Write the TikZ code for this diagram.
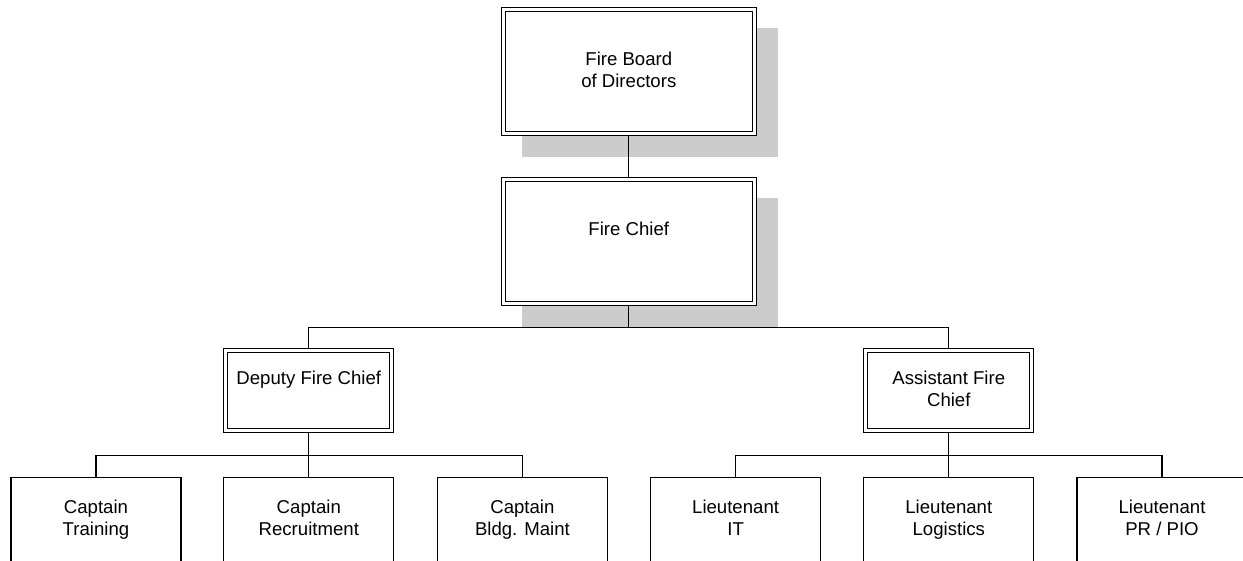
\documentclass[tikz,border=0pt]{standalone}
\usepackage{fontspec}
\setmainfont{Liberation Sans}
\usetikzlibrary{backgrounds}
\newcommand{\cellstrut}{\rule[-3.25pt]{0pt}{22.5pt}}

\begin{document}
\begin{tikzpicture}[x=1pt,y=-1pt,
    every node/.style={font=\fontsize{18.6}{22.5}\selectfont,align=center,
        execute at begin node=\cellstrut,execute at end node=\cellstrut},
    headbox/.style={draw,double,fill=white,line width=1.1pt,double distance=2.8pt,outer sep=2.5pt,minimum width=166pt,minimum height=80pt},
    staffbox/.style={draw,fill=white,line width=1.2pt,minimum width=170pt,minimum height=84pt},
    shadowfill/.style={fill=gray!40},
    link/.style={line width=1.2pt}]
    \useasboundingbox (0,0) rectangle (1243,560);
    % top of the chart
    \node[headbox,minimum width=251pt,minimum height=124pt] (board) at (628.8,71.3) {Fire Board\\of Directors};
    \node[headbox,minimum width=251pt,minimum height=124pt] (chief) at (628.8,241.3) {Fire Chief\\~};
    \node[headbox] (deputy) at (308.8,390.5) {Deputy Fire Chief\\~};
    \node[headbox] (assistant) at (948.8,390.5) {Assistant Fire\\Chief};
    % captains and lieutenants
    \node[staffbox] (training) at (96,519.6) {Captain\\Training};
    \node[staffbox] (recruit) at (308.8,519.6) {Captain\\Recruitment};
    \node[staffbox] (maint) at (522.4,519.6) {Captain\\Bldg. Maint};
    \node[staffbox] (it) at (735.6,519.6) {Lieutenant\\IT};
    \node[staffbox] (logistics) at (948.8,519.6) {Lieutenant\\Logistics};
    \node[staffbox] (pr) at (1162,519.6) {Lieutenant\\PR / PIO};
    \begin{pgfonlayer}{background}
        \foreach \n in {board,chief}
            \fill[shadowfill] ([shift={(21,21)}]\n.north west) rectangle ([shift={(21,21)}]\n.south east);
    \end{pgfonlayer}
    \draw[link] (board) to (chief);
    \draw[link] (chief.south) -- ++(0,21.3) -| (deputy.north);
    \draw[link] (chief.south) -- ++(0,21.3) -| (assistant.north);
    \draw[link] (deputy.south) -- ++(0,22.7) -| (training.north);
    \draw[link] (deputy.south) to (recruit.north);
    \draw[link] (deputy.south) -- ++(0,22.7) -| (maint.north);
    \draw[link] (assistant.south) -- ++(0,22.7) -| (it.north);
    \draw[link] (assistant.south) to (logistics.north);
    \draw[link] (assistant.south) -- ++(0,22.7) -| (pr.north);
\end{tikzpicture}
\end{document}
